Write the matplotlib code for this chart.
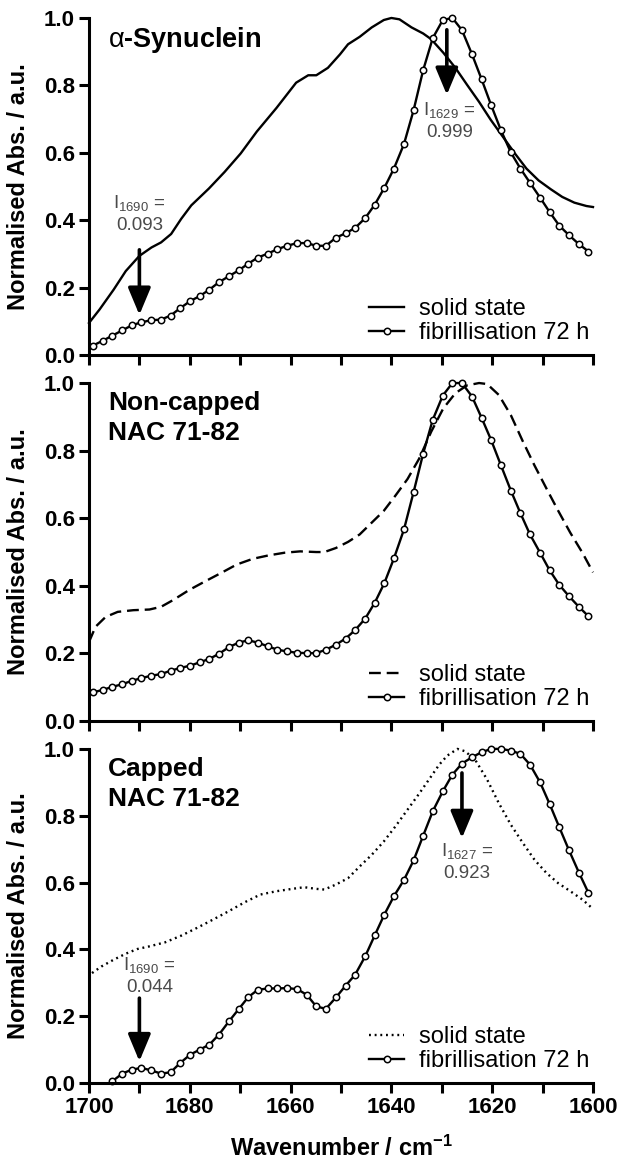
"""
FTIR amide I spectra: solid state vs fibrillisation (72 h), three peptides
"""

import matplotlib

matplotlib.use("Agg")

import matplotlib.pyplot as plt

plt.rcParams["font.family"] = ["Liberation Sans", "DejaVu Sans"]
plt.rcParams["mathtext.fontset"] = "custom"
plt.rcParams["mathtext.rm"] = "Liberation Sans"
plt.rcParams["mathtext.bf"] = "Liberation Sans:bold"
plt.rcParams["mathtext.it"] = "Liberation Sans:italic"

# wavenumber grid of the fibrillisation spectra (cm-1)
wn_fib = [1699.2, 1697.3, 1695.4, 1693.4, 1691.5, 1689.6, 1687.7, 1685.7, 1683.8,
          1681.9, 1679.9, 1678.0, 1676.1, 1674.2, 1672.2, 1670.3, 1668.4, 1666.5,
          1664.5, 1662.6, 1660.7, 1658.7, 1656.8, 1654.9, 1653.0, 1651.0, 1649.1,
          1647.2, 1645.2, 1643.3, 1641.4, 1639.5, 1637.5, 1635.6, 1633.7, 1631.8,
          1629.8, 1627.9, 1626.0, 1624.0, 1622.1, 1620.2, 1618.3, 1616.3, 1614.4,
          1612.5, 1610.5, 1608.6, 1606.7, 1604.8, 1602.8, 1600.9]

# alpha-synuclein
syn_fib = [0.028, 0.042, 0.057, 0.073, 0.088, 0.097, 0.103, 0.105, 0.117, 0.139,
           0.160, 0.175, 0.194, 0.216, 0.234, 0.251, 0.271, 0.289, 0.301, 0.314,
           0.324, 0.332, 0.332, 0.324, 0.324, 0.348, 0.361, 0.377, 0.406, 0.446,
           0.496, 0.553, 0.626, 0.726, 0.845, 0.940, 0.994, 1.000, 0.964, 0.892,
           0.818, 0.741, 0.668, 0.601, 0.553, 0.511, 0.467, 0.424, 0.384, 0.356,
           0.329, 0.307]
syn_solid_wn = [1700.0, 1697.9, 1695.1, 1692.7, 1690.0, 1687.6, 1685.7, 1683.7, 1681.7,
                1679.7, 1676.2, 1673.1, 1669.9, 1666.7, 1662.8, 1658.9, 1656.5, 1654.9,
                1652.6, 1650.2, 1648.6, 1646.3, 1643.9, 1641.5, 1640.0, 1638.4, 1636.0,
                1633.7, 1632.1, 1629.7, 1627.3, 1625.0, 1622.6, 1620.3, 1617.9, 1615.5,
                1613.2, 1610.8, 1608.4, 1606.1, 1603.7, 1601.3, 1600.0]
syn_solid = [0.095, 0.135, 0.194, 0.249, 0.294, 0.319, 0.334, 0.359, 0.404, 0.444,
             0.494, 0.543, 0.598, 0.663, 0.733, 0.808, 0.830, 0.830, 0.852, 0.892,
             0.922, 0.944, 0.972, 0.994, 1.000, 0.996, 0.972, 0.954, 0.937, 0.897,
             0.852, 0.802, 0.751, 0.698, 0.648, 0.598, 0.553, 0.518, 0.492, 0.469,
             0.452, 0.442, 0.439]

# non-capped NAC 71-82
nc_fib = [0.085, 0.092, 0.101, 0.109, 0.119, 0.127, 0.134, 0.139, 0.149, 0.157,
          0.164, 0.174, 0.184, 0.199, 0.219, 0.232, 0.239, 0.232, 0.221, 0.211,
          0.206, 0.202, 0.201, 0.201, 0.211, 0.226, 0.244, 0.269, 0.303, 0.350,
          0.408, 0.481, 0.567, 0.677, 0.791, 0.891, 0.963, 1.000, 1.000, 0.960,
          0.897, 0.831, 0.758, 0.682, 0.615, 0.552, 0.498, 0.446, 0.403, 0.370,
          0.338, 0.310]
nc_solid_wn = [1700.0, 1698.7, 1696.7, 1694.3, 1691.2, 1688.0, 1685.7, 1683.3, 1680.1,
               1677.0, 1673.8, 1670.7, 1667.5, 1664.4, 1661.2, 1658.1, 1654.9, 1653.3,
               1651.0, 1648.6, 1646.3, 1643.9, 1641.5, 1639.2, 1636.8, 1634.5, 1632.1,
               1629.7, 1627.3, 1625.0, 1622.6, 1621.0, 1618.7, 1616.3, 1614.0, 1611.6,
               1609.2, 1606.9, 1604.5, 1602.1, 1600.0]
nc_solid = [0.234, 0.279, 0.308, 0.323, 0.328, 0.330, 0.338, 0.358, 0.388, 0.413,
            0.438, 0.463, 0.480, 0.490, 0.498, 0.502, 0.500, 0.500, 0.512, 0.530,
            0.552, 0.587, 0.622, 0.667, 0.716, 0.776, 0.856, 0.925, 0.970, 0.993,
            1.000, 0.997, 0.965, 0.905, 0.830, 0.756, 0.687, 0.622, 0.557, 0.498,
            0.440]

# capped NAC 71-82 (fibril spectrum starts at 1695 cm-1)
cap_fib_wn = wn_fib[2:]
cap_fib = [0.005, 0.028, 0.040, 0.045, 0.038, 0.028, 0.032, 0.060, 0.085, 0.100,
           0.115, 0.145, 0.185, 0.221, 0.257, 0.279, 0.283, 0.283, 0.284, 0.281,
           0.264, 0.229, 0.222, 0.256, 0.291, 0.324, 0.379, 0.442, 0.504, 0.559,
           0.608, 0.666, 0.740, 0.813, 0.873, 0.923, 0.956, 0.975, 0.990, 1.000,
           1.000, 0.995, 0.985, 0.953, 0.900, 0.835, 0.766, 0.698, 0.630, 0.569]
cap_solid_wn = [1699.4, 1697.5, 1695.1, 1692.7, 1690.4, 1688.0, 1684.9, 1681.7, 1678.6,
                1675.4, 1672.3, 1669.1, 1666.0, 1662.8, 1659.7, 1657.3, 1654.9, 1653.3,
                1651.0, 1648.6, 1646.3, 1643.9, 1641.5, 1639.2, 1636.8, 1634.4, 1632.1,
                1630.5, 1628.9, 1626.9, 1625.4, 1623.4, 1621.0, 1618.7, 1616.3, 1613.9,
                1611.6, 1609.2, 1606.9, 1604.5, 1602.1, 1600.0]
cap_solid = [0.329, 0.349, 0.369, 0.387, 0.401, 0.409, 0.421, 0.441, 0.464, 0.489,
             0.514, 0.541, 0.564, 0.574, 0.581, 0.586, 0.581, 0.579, 0.594, 0.613,
             0.648, 0.683, 0.723, 0.768, 0.818, 0.868, 0.918, 0.953, 0.980, 1.000,
             0.993, 0.968, 0.908, 0.838, 0.773, 0.718, 0.668, 0.628, 0.598, 0.574,
             0.549, 0.521]

panel_titles = [r"$\mathrm{\alpha}$-Synuclein", "Non-capped\nNAC 71-82", "Capped\nNAC 71-82"]
solid_styles = ["-", (0, (5, 2.5)), (0, (0.8, 1.6))]

# (wavenumber, arrow top, arrow tip, text x, text y of first line, label, value)
annotations = [
    [(1690, 0.312, 0.119, 1690, 0.451, "1690", "0.093"),
     (1629, 0.965, 0.772, 1628.5, 0.727, "1629", "0.999")],
    [],
    [(1690, 0.254, 0.065, 1688, 0.354, "1690", "0.044"),
     (1626, 0.928, 0.733, 1625, 0.693, "1627", "0.923")],
]

solid_wn = [syn_solid_wn, nc_solid_wn, cap_solid_wn]
solid_vals = [syn_solid, nc_solid, cap_solid]
fib_wn = [wn_fib, wn_fib, cap_fib_wn]
fib_vals = [syn_fib, nc_fib, cap_fib]

fig = plt.figure(figsize=(6.21, 11.6), dpi=100)
bottoms = [0.694, 0.3784, 0.0664]
heights = [0.2905, 0.2914, 0.288]

xticks = list(range(1700, 1599, -10))
yticks = [0.0, 0.2, 0.4, 0.6, 0.8, 1.0]
gray = "#4a4a4a"

for i in range(3):
    ax = fig.add_axes([0.1433, bottoms[i], 0.8116, heights[i]])
    ax.plot(solid_wn[i], solid_vals[i], color="black", lw=1.7, ls=solid_styles[i],
            label="solid state", clip_on=False)
    ax.plot(fib_wn[i], fib_vals[i], color="black", lw=1.7, marker="o", ms=4.6,
            mfc="white", mec="black", mew=1.1, label="fibrillisation 72 h", clip_on=False)

    ax.set_xlim(1700, 1600)
    ax.set_ylim(0, 1.0)
    ax.set_xticks(xticks)
    if i == 2:
        ax.set_xticklabels([str(t) if t % 20 == 0 else "" for t in xticks])
        ax.set_xlabel(r"Wavenumber / cm$^{\mathbf{-1}}$", fontsize=17, fontweight="bold",
                      labelpad=13)
    else:
        ax.set_xticklabels([])
    ax.set_yticks(yticks)
    ax.set_yticklabels([f"{v:.1f}" for v in yticks])
    for lab in ax.get_xticklabels() + ax.get_yticklabels():
        lab.set_fontweight("bold")
    ax.tick_params(direction="out", length=7, width=2.2, labelsize=16, pad=3)
    ax.set_ylabel("Normalised Abs. / a.u.", fontsize=17, fontweight="bold")
    ax.yaxis.set_label_coords(-0.117, 0.5)
    for side in ["top", "right"]:
        ax.spines[side].set_visible(False)
    for side in ["left", "bottom"]:
        ax.spines[side].set_linewidth(2.2)

    ax.text(0.038, 0.975 if i else 0.935, panel_titles[i], transform=ax.transAxes,
            fontsize=19.5 if i == 0 else 19, fontweight="bold",
            va="top" if i else "center", ha="left", linespacing=1.3)

    for wn, top, tip, tx, ty, sub, val in annotations[i]:
        ax.annotate("", xy=(wn, tip), xytext=(wn, top),
                    arrowprops=dict(arrowstyle="-|>,head_length=0.55,head_width=0.23",
                                    mutation_scale=30, lw=2.6, color="black",
                                    shrinkA=0, shrinkB=0))
        ax.text(tx, ty, r"I$_{\mathrm{" + sub + "}}$ =", color=gray, fontsize=13.5,
                ha="center", va="center")
        ax.text(tx, ty - 0.067, val, color=gray, fontsize=13.5, ha="center", va="center")

    ax.legend(loc="lower right", bbox_to_anchor=(1.02, -0.01), frameon=False,
              fontsize=17, handlelength=1.5, handletextpad=0.6, labelspacing=0.1,
              borderaxespad=0.2)

fig.savefig("out.png", dpi=100)
